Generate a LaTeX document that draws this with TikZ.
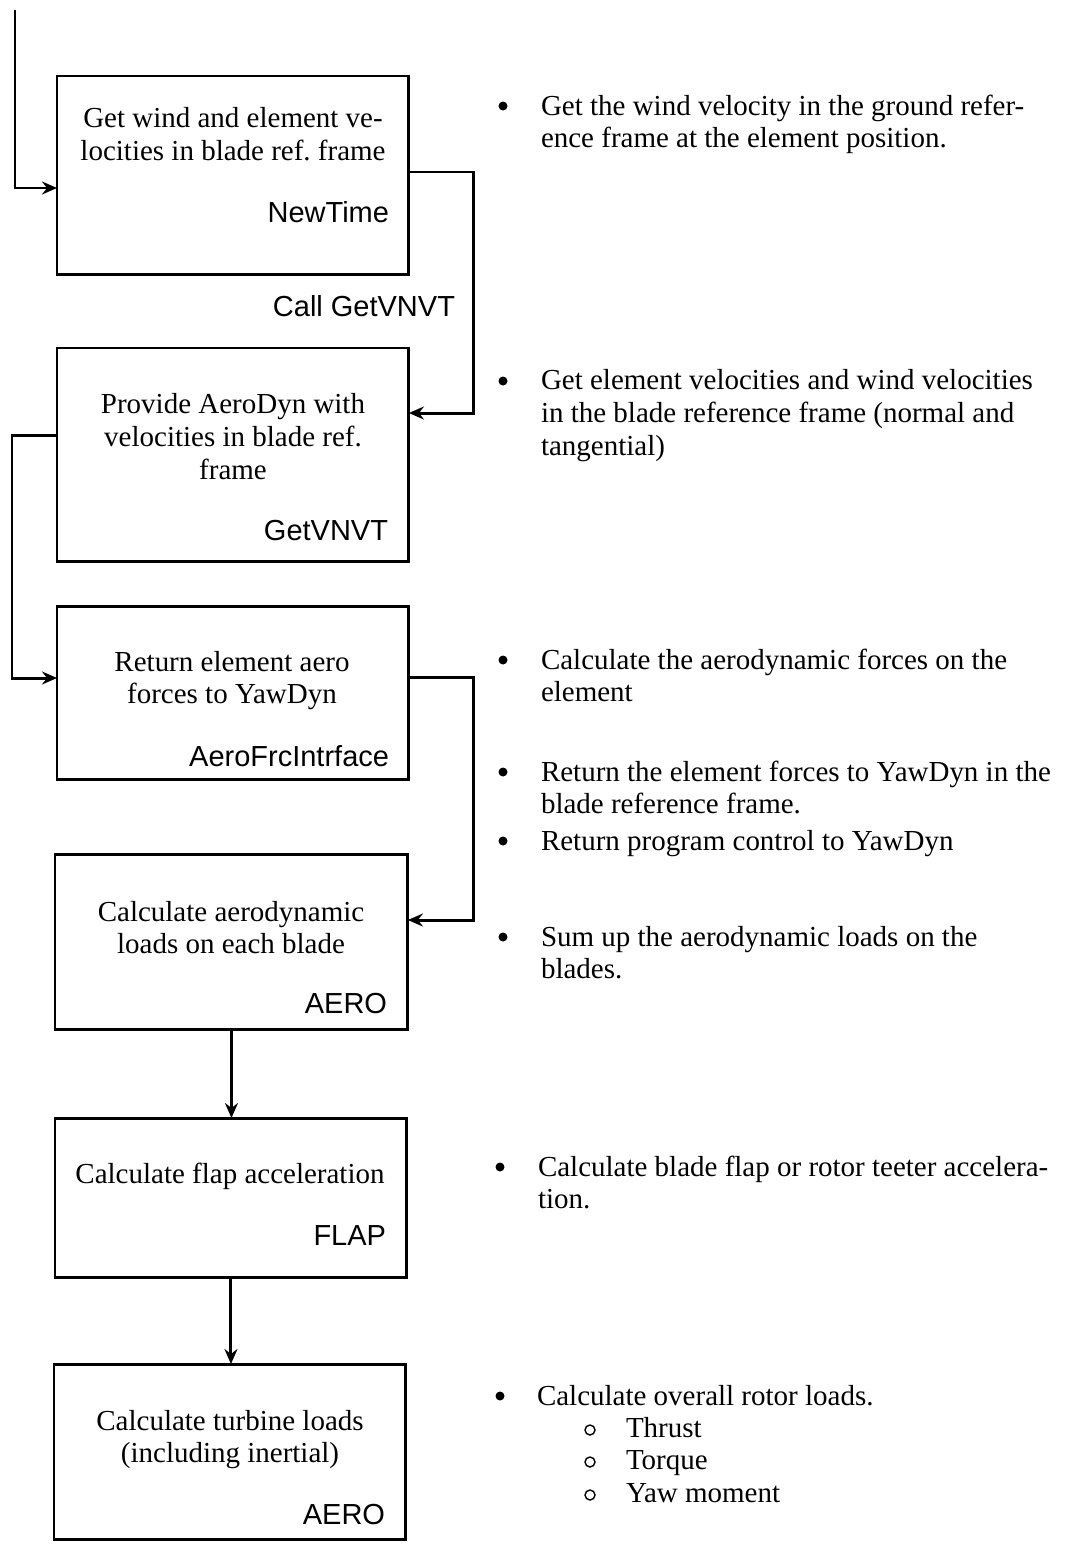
\documentclass[tikz,border=0pt]{standalone}
\usepackage{fontspec}
\setmainfont{Liberation Serif}
\newfontfamily\routinefont{Liberation Sans}
\usetikzlibrary{arrows.meta}
\frenchspacing
\begin{document}
\begin{tikzpicture}[x=0.02cm,y=-0.02cm,
  every node/.style={inner sep=0pt,outer sep=0pt},
  stepbox/.style={draw,line width=1.7pt,rectangle,anchor=north west,minimum width=7.04cm},
  desc/.style={font=\fontsize{16.5}{18.5}\selectfont,align=center,anchor=base},
  routine/.style={font=\routinefont\fontsize{16.5}{18.5}\selectfont,anchor=base east},
  note/.style={font=\fontsize{16.5}{18.5}\selectfont,align=left,anchor=base west},
  bul/.style={circle,fill=black,minimum size=0.18cm},
  subbul/.style={circle,draw=black,line width=0.8pt,minimum size=0.2cm},
  link/.style={line width=1.7pt,-{Stealth[length=0.3cm,width=0.26cm,inset=0.1cm]}},
]
\useasboundingbox (0,0) rectangle (1065,1545);

% procedure boxes
\node[stepbox,minimum height=3.98cm] (b1) at (57,76) {};
\node[stepbox,minimum height=4.28cm] (b2) at (57,348) {};
\node[stepbox,minimum height=3.48cm] (b3) at (57,606) {};
\node[stepbox,minimum height=3.52cm,minimum width=7.06cm] (b4) at (55,854) {};
\node[stepbox,minimum height=3.20cm] (b5) at (55,1118) {};
\node[stepbox,minimum height=3.52cm] (b6) at (54,1364) {};

% box contents (multi-line nodes are placed by the baseline of their last line)
\node[desc] (t1) at (233,160.5) {Get wind and element ve-\\locities in blade ref. frame};
\node[routine] (r1) at (389,222) {NewTime};
\node[desc] (t2) at (233,479) {Provide AeroDyn with\\velocities in blade ref.\\frame};
\node[routine] (r2) at (388,540) {GetVNVT};
\node[desc] (t3) at (232,703.5) {Return element aero\\forces to YawDyn};
\node[routine] (r3) at (389,766) {AeroFrcIntrface};
\node[desc] (t4) at (231,953.5) {Calculate aerodynamic\\loads on each blade};
\node[routine] (r4) at (387,1013) {AERO};
\node[desc] (t5) at (230,1183) {Calculate flap acceleration};
\node[routine] (r5) at (386,1245) {FLAP};
\node[desc] (t6) at (230,1462.5) {Calculate turbine loads\\(including inertial)};
\node[routine] (r6) at (385,1524) {AERO};

\node[routine] (call) at (455,316) {Call GetVNVT};

% connectors
\coordinate (entry) at (15,10);
\draw[link] (entry) |- (b1.west |- 0,188);
\draw[link] (b1.east |- 0,172) -- ++(65,0) |- (b2.east |- 0,413);
\draw[link] (b2.west |- 0,435) -- ++(-45,0) |- (b3.west |- 0,678);
\draw[link] (b3.east |- 0,677) -- ++(65,0) |- (b4.east |- 0,920);
\draw[link] (b4.south) -- (b4.south |- b5.north);
\draw[link] (b5.south) -- (b5.south |- b6.north);

% notes
\node[bul] (d1) at (503,106) {};
\node[note] (n1) at (541,147.5) {Get the wind velocity in the ground refer-\\ence frame at the element position.};
\node[bul] (d2) at (503,381) {};
\node[note] (n2) at (541,455) {Get element velocities and wind velocities\\in the blade reference frame (normal and\\tangential)};
\node[bul] (d3) at (503,660) {};
\node[note] (n3) at (541,701.5) {Calculate the aerodynamic forces on the\\element};
\node[bul] (d4) at (503,772) {};
\node[note] (n4) at (541,813.5) {Return the element forces to YawDyn in the\\blade reference frame.};
\node[bul] (d5) at (503,841) {};
\node[note] (n5) at (541,850) {Return program control to YawDyn};
\node[bul] (d6) at (503,937) {};
\node[note] (n6) at (541,978.5) {Sum up the aerodynamic loads on the\\blades.};
\node[bul] (d7) at (500,1167) {};
\node[note] (n7) at (538,1208.5) {Calculate blade flap or rotor teeter accelera-\\tion.};
\node[bul] (d8) at (500,1396) {};
\node[note] (n8) at (537,1405) {Calculate overall rotor loads.};
\node[subbul] (s1) at (590,1430) {};
\node[note] (m1) at (626,1437) {Thrust};
\node[subbul] (s2) at (590,1462) {};
\node[note] (m2) at (626,1469) {Torque};
\node[subbul] (s3) at (590,1495) {};
\node[note] (m3) at (626,1502) {Yaw moment};
\end{tikzpicture}
\end{document}
